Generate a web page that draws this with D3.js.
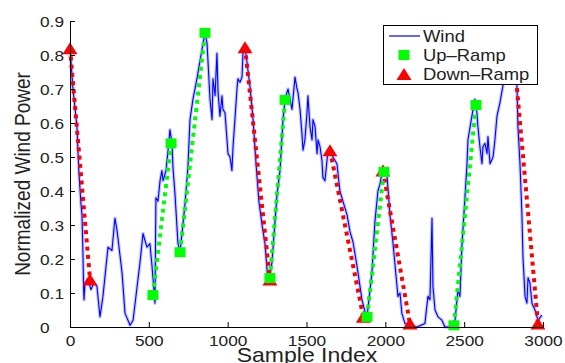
<!DOCTYPE html>
<html>
<head>
<meta charset="utf-8">
<script src="https://d3js.org/d3.v7.min.js"></script>
<style>
  body { margin: 0; background: #fff; }
  text { font-family: "Liberation Sans", Arial, sans-serif; fill: #222; }
</style>
</head>
<body>
<svg id="chart" width="565" height="363"></svg>
<script>
// wind power samples: [sample index, normalized power]
var wind = [[0,0.82],[19,0.70],[44,0.59],[57,0.45],[70,0.36],[76,0.33],[82,0.22],[86,0.12],[89,0.08],[95,0.13],
  [114,0.14],[133,0.11],[152,0.13],[171,0.12],[190,0.03],[209,0.09],[241,0.235],[266,0.225],[285,0.32],[298,0.285],
  [330,0.16],[349,0.04],[381,0.005],[400,0.02],[444,0.19],[463,0.275],[488,0.235],[507,0.245],[520,0.18],[539,0.07],
  [545,0.38],[558,0.37],[571,0.43],[583,0.46],[590,0.43],[609,0.46],[622,0.52],[634,0.58],[647,0.54],[653,0.47],
  [666,0.39],[679,0.29],[685,0.245],[698,0.22],[729,0.36],[748,0.47],[761,0.61],[780,0.67],[805,0.73],[831,0.80],
  [856,0.865],[869,0.835],[888,0.67],[901,0.61],[907,0.73],[920,0.68],[932,0.805],[939,0.69],[951,0.62],[964,0.68],
  [970,0.64],[983,0.63],[996,0.55],[1002,0.51],[1015,0.50],[1027,0.46],[1034,0.53],[1046,0.61],[1059,0.70],[1065,0.73],
  [1078,0.72],[1091,0.735],[1097,0.805],[1110,0.825],[1142,0.705],[1161,0.61],[1180,0.48],[1198,0.37],[1218,0.30],[1237,0.245],
  [1256,0.13],[1268,0.15],[1281,0.19],[1313,0.39],[1332,0.46],[1351,0.61],[1364,0.67],[1383,0.70],[1408,0.64],[1427,0.735],
  [1440,0.70],[1446,0.69],[1459,0.64],[1471,0.57],[1478,0.52],[1490,0.55],[1503,0.63],[1509,0.68],[1522,0.59],[1535,0.55],
  [1541,0.61],[1554,0.59],[1567,0.51],[1573,0.55],[1586,0.53],[1598,0.49],[1604,0.44],[1617,0.43],[1630,0.49],[1636,0.52],
  [1649,0.52],[1668,0.50],[1693,0.48],[1712,0.40],[1731,0.37],[1757,0.33],[1776,0.28],[1795,0.25],[1820,0.18],[1852,0.08],
  [1871,0.045],[1884,0.03],[1915,0.16],[1934,0.31],[1953,0.40],[1966,0.42],[1985,0.47],[1998,0.46],[2010,0.45],[2029,0.33],
  [2048,0.25],[2074,0.12],[2080,0.09],[2093,0.10],[2105,0.04],[2125,0.01],[2156,0.005],[2201,0.0],[2251,0.01],[2270,0.09],
  [2283,0.08],[2296,0.32],[2302,0.12],[2315,0.05],[2334,0.03],[2359,0.02],[2378,0.0],[2410,0.0],[2442,0.02],[2461,0.11],
  [2473,0.09],[2486,0.24],[2505,0.38],[2518,0.48],[2524,0.55],[2549,0.62],[2568,0.67],[2581,0.63],[2587,0.59],[2600,0.53],
  [2613,0.48],[2619,0.53],[2632,0.54],[2645,0.51],[2651,0.56],[2664,0.48],[2683,0.50],[2695,0.55],[2708,0.62],[2727,0.66],
  [2746,0.71],[2778,0.755],[2803,0.785],[2822,0.79],[2835,0.705],[2841,0.59],[2854,0.48],[2866,0.335],[2873,0.205],[2886,0.09],
  [2898,0.07],[2905,0.145],[2917,0.13],[2930,0.07],[2949,0.05],[2968,0.02],[2993,0.035]];

// ramps: [start index, start value, end index, end value]
var upRamps = [[526,0.094,641,0.54],[698,0.22,856,0.865],[1268,0.144,1364,0.668],[1884,0.03,1991,0.456],[2435,0.005,2575,0.653]];
var downRamps = [[0,0.82,127,0.14],[1110,0.823,1268,0.14],[1649,0.52,1860,0.03],[1985,0.46,2156,0.01],[2816,0.80,2968,0.01]];

var xTicks = [0,500,1000,1500,2000,2500,3000];
var yTicks = [0,0.1,0.2,0.3,0.4,0.5,0.6,0.7,0.8,0.9];
var yTickLabels = ["0","0.1","0.2","0.3","0.4","0.5","0.6","0.7","0.8","0.9"];
var legendLabels = ["Wind","Up\u2013Ramp","Down\u2013Ramp"];

var svg = d3.select("#chart");
var sx = 1.15; // original picture is a bit stretched sideways

var x = d3.scaleLinear().domain([0,3000]).range([70,543]);
var y = d3.scaleLinear().domain([0,0.9]).range([327,21]);

// wind line, with a soft halo like the blurry original
var line = d3.line().x(function(d){ return x(d[0]); }).y(function(d){ return y(d[1]); });
svg.append("path").datum(wind).attr("d", line)
  .attr("fill","none").attr("stroke","#9da3ff").attr("stroke-width",3.4)
  .attr("stroke-opacity",0.6).attr("stroke-linejoin","round");
svg.append("path").datum(wind).attr("d", line)
  .attr("fill","none").attr("stroke","#0000ff").attr("stroke-width",1.1).attr("stroke-linejoin","round");

function triangle(g, cx, cy) {
  g.append("path")
    .attr("d","M" + cx + "," + (cy-6) + "L" + (cx+7.5) + "," + (cy+6) + "L" + (cx-7.5) + "," + (cy+6) + "Z")
    .attr("fill","#ff0000");
}
function square(g, cx, cy) {
  g.append("rect").attr("x",cx-5.5).attr("y",cy-5).attr("width",11).attr("height",10).attr("fill","#00ff00");
}

// down ramps (drawn first so the green marks sit on top)
var gd = svg.append("g");
gd.selectAll("line").data(downRamps).enter().append("line")
  .attr("x1",function(d){ return x(d[0]); }).attr("y1",function(d){ return y(d[1]); })
  .attr("x2",function(d){ return x(d[2]); }).attr("y2",function(d){ return y(d[3]); })
  .attr("stroke","#ff0000").attr("stroke-width",4).attr("stroke-dasharray","4,4.3");
downRamps.forEach(function(d){
  triangle(gd, x(d[0]), y(d[1]));
  triangle(gd, x(d[2]), y(d[3]));
});

// up ramps
var gu = svg.append("g");
gu.selectAll("line").data(upRamps).enter().append("line")
  .attr("x1",function(d){ return x(d[0]); }).attr("y1",function(d){ return y(d[1]); })
  .attr("x2",function(d){ return x(d[2]); }).attr("y2",function(d){ return y(d[3]); })
  .attr("stroke","#00ff00").attr("stroke-width",4).attr("stroke-dasharray","4,4.3");
upRamps.forEach(function(d){
  square(gu, x(d[0]), y(d[1]));
  square(gu, x(d[2]), y(d[3]));
});

// axes, ticks pointing inward
var gx = svg.append("g").attr("transform","translate(0,327)")
  .call(d3.axisBottom(x).tickValues(xTicks).tickSizeInner(-5).tickSizeOuter(0).tickFormat(d3.format("d")));
var gy = svg.append("g").attr("transform","translate(70,0)")
  .call(d3.axisLeft(y).tickValues(yTicks).tickSizeInner(-5).tickSizeOuter(0)
    .tickFormat(function(d,i){ return yTickLabels[i]; }));
[gx, gy].forEach(function(g){
  g.attr("font-family",null).attr("font-size",null);
  g.select(".domain").attr("stroke","#000");
  g.selectAll(".tick line").attr("stroke","#000");
  g.selectAll(".tick text").attr("fill","#222").attr("font-size",15);
});
gx.selectAll(".tick text").attr("y",null).attr("dy",null)
  .attr("transform","translate(0,19) scale(" + sx + ",1)");
gy.selectAll(".tick text").attr("x",null).attr("dy",null).attr("text-anchor","start")
  .attr("transform","translate(-30,5.5) scale(" + sx + ",1)");

// axis titles
svg.append("text").attr("text-anchor","middle").attr("font-size",20)
  .attr("transform","translate(307,362) scale(" + sx + ",1)")
  .text("Sample Index");
svg.append("text").attr("text-anchor","middle").attr("font-size",19)
  .attr("transform","translate(30,174) scale(" + sx + ",1) rotate(-90)")
  .text("Normalized Wind Power");

// legend
var lg = svg.append("g");
lg.append("rect").attr("x",383.5).attr("y",25.5).attr("width",154).attr("height",59)
  .attr("fill","#fff").attr("stroke","#000").attr("stroke-width",1);
lg.append("line").attr("x1",389).attr("x2",420).attr("y1",36).attr("y2",36)
  .attr("stroke","#0000ff").attr("stroke-width",1.2);
square(lg, 404, 55);
triangle(lg, 404, 74);
lg.selectAll("text").data(legendLabels).enter().append("text")
  .attr("font-size",16)
  .attr("transform",function(d,i){ return "translate(423," + (42 + i*19) + ") scale(" + sx + ",1)"; })
  .text(function(d){ return d; });
</script>
</body>
</html>
